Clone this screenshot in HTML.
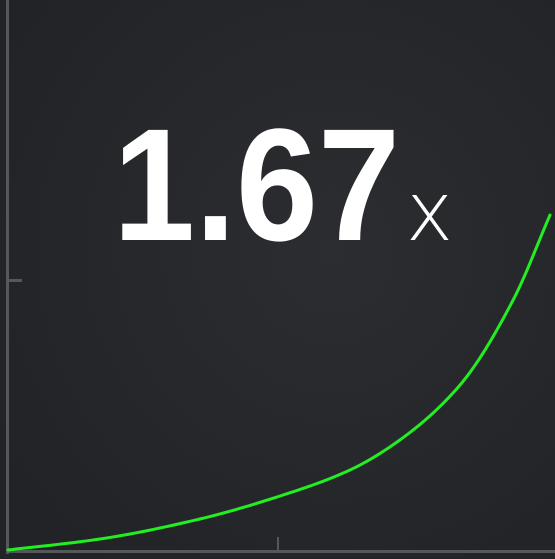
<!DOCTYPE html>
<html><head><meta charset="utf-8"><style>
html,body{margin:0;padding:0;background:#25272b;}
svg{display:block}
</style></head><body>
<svg id="chart" width="555" height="559" viewBox="0 0 555 559" xmlns="http://www.w3.org/2000/svg">
<defs><radialGradient id="bg" cx="0.6" cy="0.45" r="0.7"><stop offset="0" stop-color="#2b2d31"/><stop offset="1" stop-color="#212327"/></radialGradient></defs>
<rect width="555" height="559" fill="url(#bg)"/>
<rect x="6" y="0" width="3" height="554" fill="#55575b"/>
<rect x="6" y="550" width="549" height="3" fill="#55575b"/>
<rect x="8" y="279" width="14" height="3" fill="#55575b"/>
<rect x="277" y="537" width="2" height="14" fill="#55575b"/>
<text x="113" y="240" font-family="Liberation Sans, sans-serif" font-weight="bold" font-size="160" fill="#ffffff" textLength="287" lengthAdjust="spacingAndGlyphs">1.67</text>
<text x="406" y="240" font-family="DejaVu Sans, sans-serif" font-weight="200" font-size="82" fill="#ffffff" textLength="47" lengthAdjust="spacingAndGlyphs">x</text>
<path id="curve" fill="none" stroke="#22ee22" stroke-width="3" stroke-linecap="round" stroke-linejoin="round"/>
</svg>
<script>
const times = [0, 1.70, 3.54, 5.02, 6.31, 7.23, 8.34, 9.32, 10];
const multipliers = [1.0, 1.022, 1.062, 1.108, 1.16, 1.22, 1.33, 1.50, 1.67];
const tMax = 10, mMin = 1.0, mMax = 1.67;
function xScale(t){ return 8 + (t / tMax) * (550 - 8); }
function yScale(m){ return 550 - (m - mMin) / (mMax - mMin) * (550 - 215); }
// monotone cubic (Fritsch-Carlson) interpolation for a smooth curve
const n = times.length;
const dk = [], m = [];
for (let i = 0; i < n - 1; i++) dk.push((multipliers[i+1]-multipliers[i])/(times[i+1]-times[i]));
m.push(dk[0]);
for (let i = 1; i < n - 1; i++) {
  const h0 = times[i]-times[i-1], h1 = times[i+1]-times[i];
  const w1 = 2*h1 + h0, w2 = h1 + 2*h0;
  m.push(dk[i-1]*dk[i] <= 0 ? 0 : (w1 + w2) / (w1/dk[i-1] + w2/dk[i]));
}
m.push(dk[n-2]);
let d = 'M' + xScale(times[0]) + ',' + yScale(multipliers[0]);
for (let i = 0; i < n - 1; i++) {
  const h = times[i+1]-times[i];
  for (let s = 1; s <= 20; s++) {
    const u = s/20, t = times[i] + u*h;
    const h00 = 2*u*u*u - 3*u*u + 1, h10 = u*u*u - 2*u*u + u, h01 = -2*u*u*u + 3*u*u, h11 = u*u*u - u*u;
    const v = h00*multipliers[i] + h10*h*m[i] + h01*multipliers[i+1] + h11*h*m[i+1];
    d += ' L' + xScale(t).toFixed(2) + ',' + yScale(v).toFixed(2);
  }
}
document.getElementById('curve').setAttribute('d', d);
</script>
</body></html>
